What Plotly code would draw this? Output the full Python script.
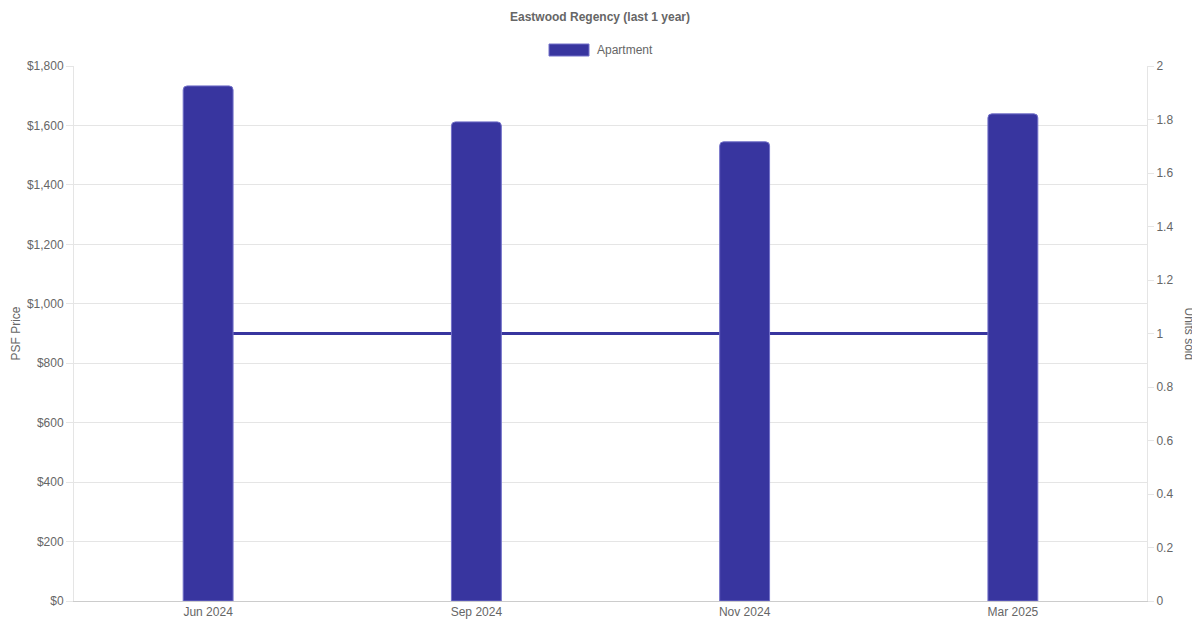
import plotly.graph_objects as go

# data
months = ["Jun 2024", "Sep 2024", "Nov 2024", "Mar 2025"]
psf_price = [1733, 1612, 1545, 1639]
units_sold = [1, 1, 1, 1]

BAR = "#38359f"
EDGE = "#7371c9"
GRID = "#e5e5e5"
TXT = "#666666"
FONT = "Liberation Sans, Arial, sans-serif"

# the page puts the figure 8px in from the top-left corner
W, H = 1192, 614
L, T = 66, 58
PLOT_W = 1073
PLOT_H = 535

fig = go.Figure()

# line on the right-hand axis, drawn under the bars
fig.add_trace(go.Scatter(
    x=months, y=units_sold, mode="lines",
    line=dict(color=BAR, width=3),
    name="Units sold", showlegend=False,
    xaxis="x", yaxis="y",
))

fig.add_trace(go.Bar(
    x=months, y=psf_price,
    marker=dict(color=BAR, line=dict(color=EDGE, width=1), cornerradius=4),
    name="Apartment", showlegend=False,
    xaxis="x", yaxis="y2",
))

fig.update_layout(
    width=W, height=H,
    margin=dict(l=L, r=W - L - PLOT_W, t=T, b=H - T - PLOT_H, autoexpand=False),
    paper_bgcolor="white", plot_bgcolor="white",
    font=dict(family=FONT, size=12, color=TXT),
    bargap=0.814,
    title=dict(text="<b>Eastwood Regency (last 1 year)</b>", x=592 / W, xref="container",
               xanchor="center", y=1 - 9 / H, yanchor="middle",
               font=dict(size=12, color=TXT, family=FONT)),
    xaxis=dict(
        type="category", showgrid=False, showline=True, linecolor="#cccccc",
        linewidth=1, ticks="", tickfont=dict(size=12, color=TXT),
        zeroline=False, automargin=False,
    ),
    yaxis=dict(
        side="right", range=[0, 2], dtick=0.2, showgrid=False,
        showline=True, linecolor=GRID, linewidth=1,
        ticks="outside", ticklen=6, tickcolor=GRID,
        tickfont=dict(size=12, color=TXT), zeroline=False, automargin=False,
    ),
    yaxis2=dict(
        side="left", overlaying="y", range=[0, 1800], dtick=200,
        tickprefix="$", tickformat=",d", showgrid=True, gridcolor=GRID,
        showline=True, linecolor=GRID, linewidth=1,
        ticks="outside", ticklen=7, tickcolor=GRID,
        tickfont=dict(size=12, color=TXT), zeroline=False, automargin=False,
    ),
    annotations=[
        dict(text="PSF Price", xref="paper", yref="paper", x=(7 - L) / PLOT_W, y=0.5,
             textangle=-90, showarrow=False, xanchor="center", yanchor="middle",
             font=dict(size=12, color=TXT)),
        dict(text="Units sold", xref="paper", yref="paper", x=1 + 42 / PLOT_W, y=0.5,
             textangle=90, showarrow=False, xanchor="center", yanchor="middle",
             font=dict(size=12, color=TXT)),
        dict(text="Apartment", xref="paper", yref="paper", x=(595 - 74) / PLOT_W,
             y=(601 - 50) / PLOT_H, showarrow=False, xanchor="left", yanchor="middle",
             font=dict(size=12, color=TXT)),
    ],
    shapes=[
        # legend swatch
        dict(type="rect", xref="paper", yref="paper",
             x0=(549 - 74) / PLOT_W, x1=(589 - 74) / PLOT_W,
             y0=(601 - 56) / PLOT_H, y1=(601 - 44) / PLOT_H,
             fillcolor=BAR, line=dict(color=EDGE, width=1)),
    ],
)

fig.write_html("out.html")
